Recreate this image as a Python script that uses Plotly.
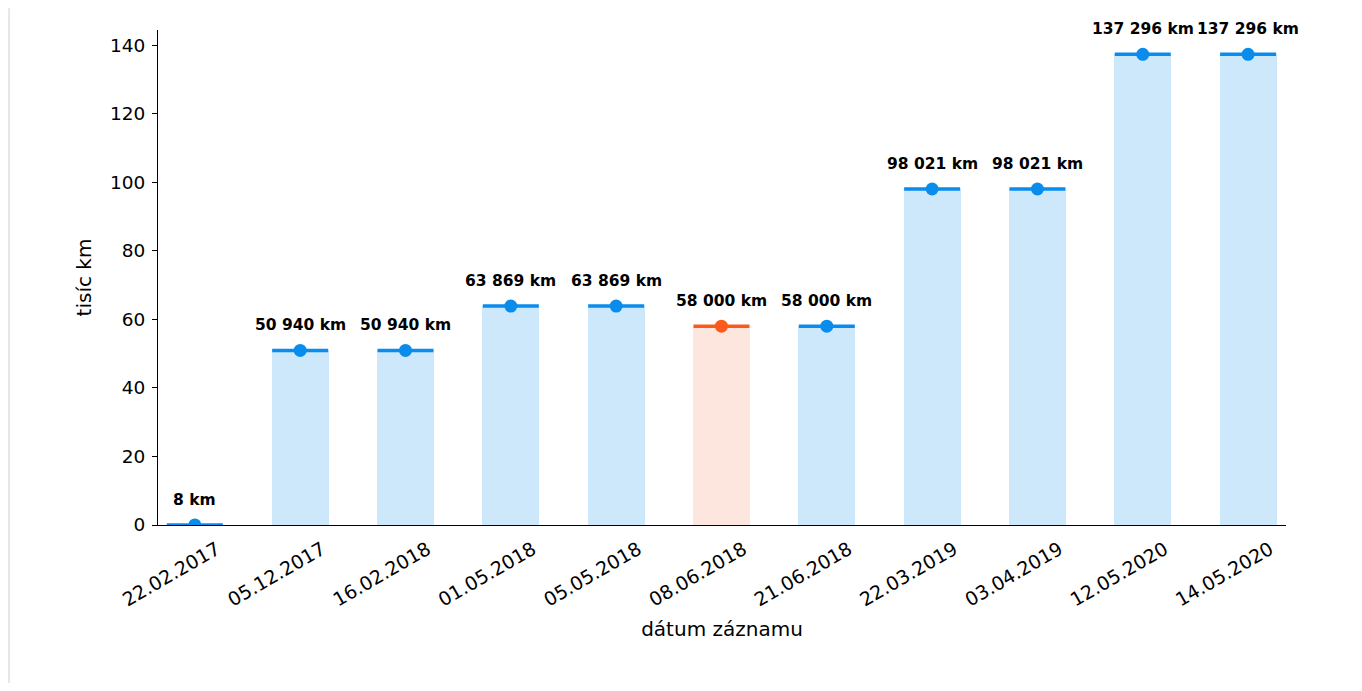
import plotly.graph_objects as go

# odometer readings per record date
dates = ["22.02.2017", "05.12.2017", "16.02.2018", "01.05.2018", "05.05.2018", "08.06.2018",
         "21.06.2018", "22.03.2019", "03.04.2019", "12.05.2020", "14.05.2020"]
km = [8, 50940, 50940, 63869, 63869, 58000, 58000, 98021, 98021, 137296, 137296]
suspicious = [False, False, False, False, False, True, False, False, False, False, False]

BLUE, BLUE_LIGHT = "#0a8ced", "#cde8fb"
ORANGE, ORANGE_LIGHT = "#fc5a1a", "#fde6dd"

thousands = [v / 1000 for v in km]
labels = [f"{v:,} km".replace(",", " ") for v in km]
line_cols = [ORANGE if s else BLUE for s in suspicious]
fill_cols = [ORANGE_LIGHT if s else BLUE_LIGHT for s in suspicious]

fig = go.Figure()
fig.add_trace(go.Bar(x=dates, y=thousands, width=0.54, marker_color=fill_cols,
                     marker_line_width=0, hoverinfo="skip"))
# top line on each bar
fig.add_trace(go.Scatter(x=dates, y=thousands, mode="markers",
                         marker=dict(symbol="line-ew", size=40, line=dict(width=3.5, color=line_cols))))
# dot in the middle
fig.add_trace(go.Scatter(x=dates, y=thousands, mode="markers",
                         marker=dict(symbol="circle", size=13, color=line_cols)))

for d, v, t in zip(dates, thousands, labels):
    fig.add_annotation(x=d, y=v, text=f"<b>{t}</b>", showarrow=False, yanchor="bottom",
                       yshift=14, font=dict(size=15.5, color="black", family="DejaVu Sans"))

# faint frame line at the left edge
fig.add_shape(type="line", xref="paper", yref="paper", x0=-0.132, x1=-0.132, y0=-0.32, y1=1.044,
              line=dict(color="#e6e6e6", width=2))

fig.update_layout(
    width=1346, height=675, showlegend=False,
    plot_bgcolor="white", paper_bgcolor="white",
    margin=dict(l=150, r=68, t=22, b=158),
    font=dict(family="DejaVu Sans", size=16.5, color="black"),
    bargap=0,
)
fig.update_xaxes(title=dict(text="dátum záznamu", standoff=12), tickangle=-30, range=[-0.35, 10.36],
                 showline=True, linecolor="black", linewidth=1.2, ticks="",
                 ticklabelshift=22, ticklabelstandoff=5,
                 showgrid=False, tickfont=dict(size=19))
fig.update_yaxes(title=dict(text="tisíc km", standoff=12), range=[0, 144.4], dtick=20,
                 showline=True, linecolor="black", linewidth=1.2, ticks="outside", ticklen=5,
                 tickcolor="black", showgrid=False, zeroline=False, tickfont=dict(size=18.5),
                 ticklabelstandoff=3)

fig.write_html("out.html")
